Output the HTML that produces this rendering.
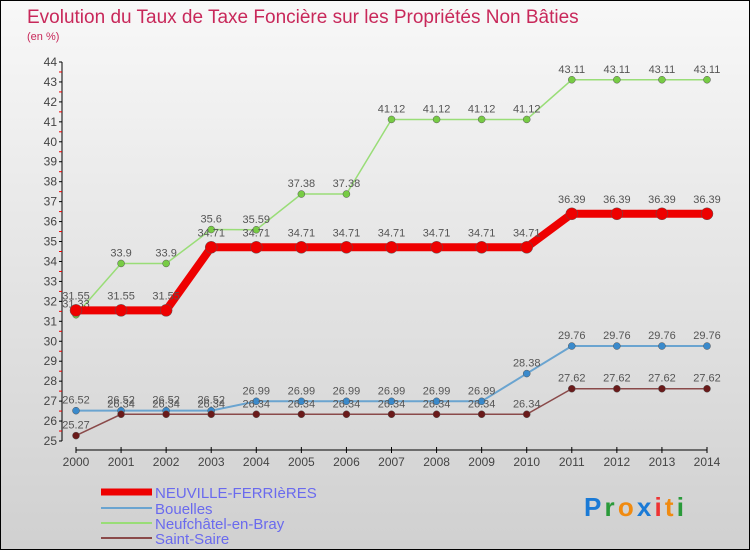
<!DOCTYPE html>
<html><head><meta charset="utf-8"><style>
body{margin:0}
#c{width:748px;height:548px;border:1px solid #000;background:linear-gradient(#f8f8f8,#d0d0d0);position:relative;font-family:"Liberation Sans",sans-serif;overflow:hidden}
</style></head><body>
<div id="c">
<svg id="s" width="748" height="548" style="position:absolute;left:0;top:0">
<text x="26" y="22" font-size="19" fill="#c8285a">Evolution du Taux de Taxe Foncière sur les Propriétés Non Bâties</text>
<text x="26" y="39" font-size="11" fill="#c8285a">(en %)</text>
<g id="ax"></g><g id="ser"></g>
<g>
<line x1="100" y1="491" x2="151" y2="491" stroke="#e00" stroke-width="7"/>
<text x="154" y="497" font-size="15" fill="#6a6aee">NEUVILLE-FERRIèRES</text>
<line x1="100" y1="507" x2="151" y2="507" stroke="#6aa4d0" stroke-width="2"/>
<text x="154" y="513" font-size="15" fill="#6a6aee">Bouelles</text>
<line x1="100" y1="522" x2="151" y2="522" stroke="#99dd77" stroke-width="2"/>
<text x="154" y="528" font-size="15" fill="#6a6aee">Neufchâtel-en-Bray</text>
<line x1="100" y1="537" x2="151" y2="537" stroke="#8a4a4a" stroke-width="2"/>
<text x="154" y="543" font-size="15" fill="#6a6aee">Saint-Saire</text>
</g>
<text x="583" y="515" font-size="26" font-weight="bold" textLength="100"><tspan fill="#1a7ad6">P</tspan><tspan fill="#2a9a3a">r</tspan><tspan fill="#f08a10">o</tspan><tspan fill="#1a7ad6">x</tspan><tspan fill="#e33">i</tspan><tspan fill="#f08a10">t</tspan><tspan fill="#2a9a3a">i</tspan></text>
</svg>
</div>
<script>
const years=[2000,2001,2002,2003,2004,2005,2006,2007,2008,2009,2010,2011,2012,2013,2014];
const neuville=[31.55,31.55,31.55,34.71,34.71,34.71,34.71,34.71,34.71,34.71,34.71,36.39,36.39,36.39,36.39];
const bouelles=[26.52,26.52,26.52,26.52,26.99,26.99,26.99,26.99,26.99,26.99,28.38,29.76,29.76,29.76,29.76];
const neufchatel=[31.33,33.9,33.9,35.6,35.59,37.38,37.38,41.12,41.12,41.12,41.12,43.11,43.11,43.11,43.11];
const saintSaire=[25.27,26.34,26.34,26.34,26.34,26.34,26.34,26.34,26.34,26.34,26.34,27.62,27.62,27.62,27.62];
const yTicks=[25,26,27,28,29,30,31,32,33,34,35,36,37,38,39,40,41,42,43,44];
const NS='http://www.w3.org/2000/svg';
const xs=i=>75+i*(706-75)/(years.length-1);
const ys=v=>440-(v-25)*(440-61)/19;
function mk(t,a,p){const e=document.createElementNS(NS,t);for(const k in a)e.setAttribute(k,a[k]);p.appendChild(e);return e;}
const ax=document.getElementById('ax');
const yl=mk('line',{x1:61,y1:ys(44),x2:61,y2:ys(25),stroke:'#000'},ax);


yTicks.forEach((v,k)=>{
 mk('line',{x1:58,x2:61,y1:ys(v),y2:ys(v),stroke:'#000'},ax);
 if(k<yTicks.length-1) mk('line',{x1:58,x2:61,y1:ys(v+0.5),y2:ys(v+0.5),stroke:'#e00'},ax);
 const t=mk('text',{x:56,y:ys(v)+4,'text-anchor':'end','font-size':12,fill:'#444'},ax);t.textContent=v;
 
 
});
const xl=mk('line',{x1:xs(0),x2:xs(14),y1:449,y2:449,stroke:'#000'},ax);


years.forEach((y,i)=>{
 mk('line',{x1:xs(i),x2:xs(i),y1:446,y2:452,stroke:'#000'},ax);
 const t=mk('text',{x:xs(i),y:465,'text-anchor':'middle','font-size':12,fill:'#444'},ax);t.textContent=y;
 
 
});
const ser=document.getElementById('ser');
function draw(vals,color,w,r,name,dot){
 const g=mk('g',{},ser);
 
 
 mk('polyline',{points:vals.map((v,i)=>xs(i)+','+ys(v)).join(' '),fill:'none',stroke:color,'stroke-width':w},g);
 vals.forEach((v,i)=>{
  const c=mk('circle',{cx:xs(i),cy:ys(v),r:r,fill:dot,stroke:'#555','stroke-width':0.5},g);
  
  
  const t=mk('text',{x:xs(i),y:ys(v)-(r>4?11:7),'text-anchor':'middle','font-size':11,fill:'#555'},g);t.textContent=v;
  
  
 });
}
draw(neufchatel,'#99dd77',1.5,3.5,'neufchatel-series','#77cc44');
draw(bouelles,'#6aa4d0',2,3.5,'bouelles-series','#3a8acc');
draw(saintSaire,'#8a4a4a',1.5,3.5,'saint-saire-series','#6a1a1a');
draw(neuville,'#ee0000',8,6,'neuville-series','#ee0000');
</script>
</body></html>
